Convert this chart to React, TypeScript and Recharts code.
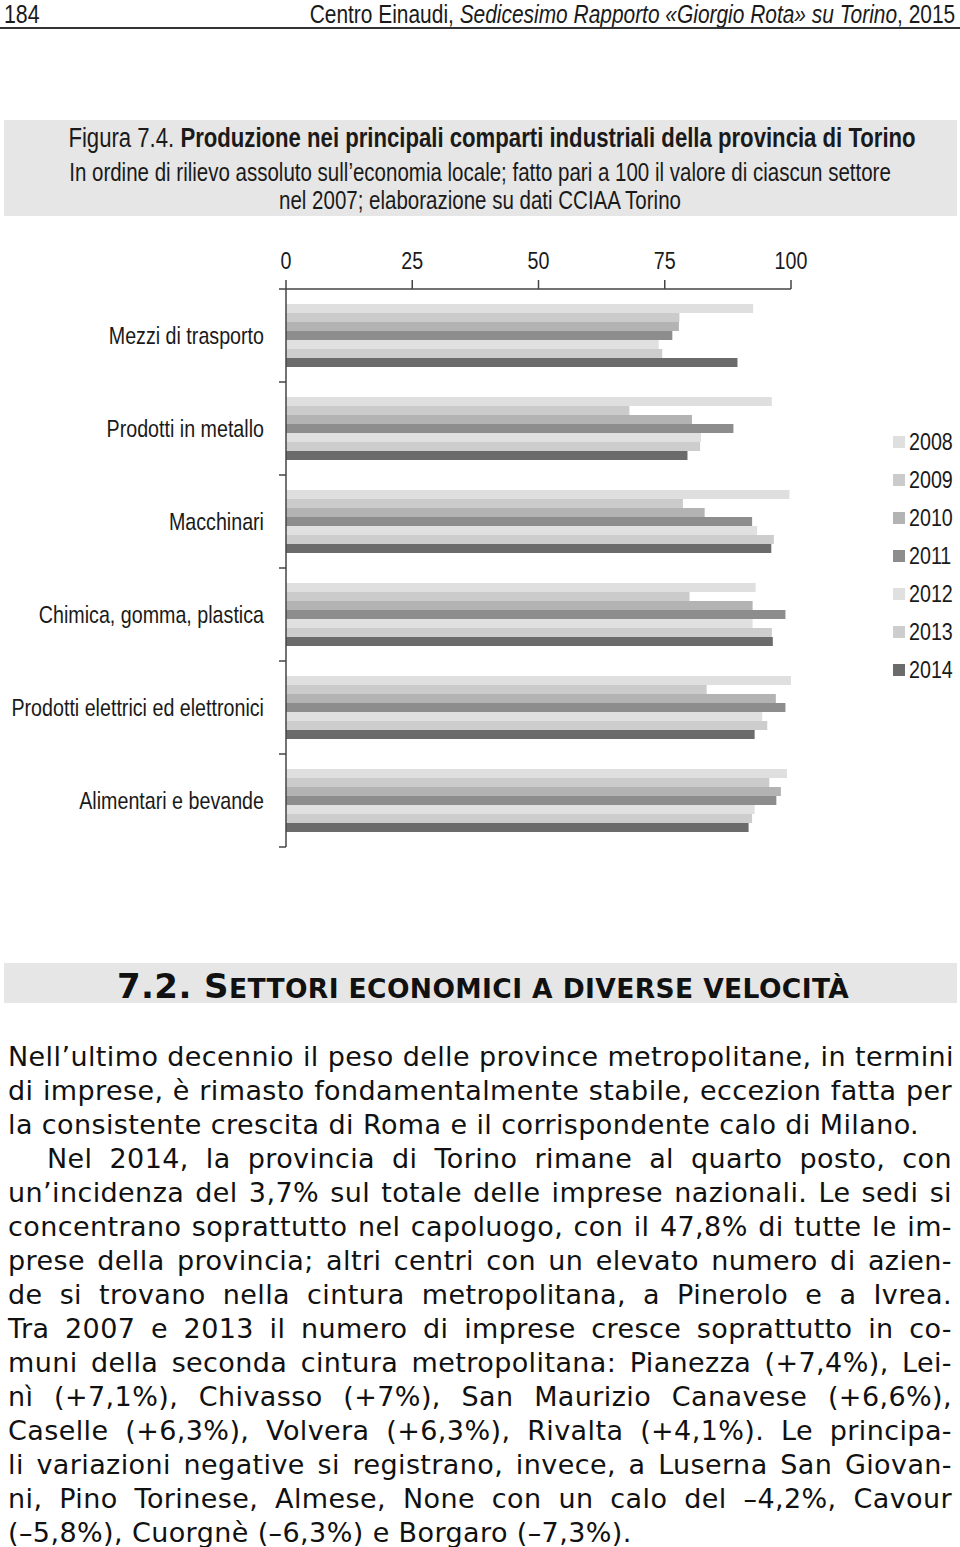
import React from "react";
import { Bar, BarChart, Legend, XAxis, YAxis } from "recharts";

const categories = [
  "Mezzi di trasporto",
  "Prodotti in metallo",
  "Macchinari",
  "Chimica, gomma, plastica",
  "Prodotti elettrici ed elettronici",
  "Alimentari e bevande",
];
const years = ["2008", "2009", "2010", "2011", "2012", "2013", "2014"];
const v2008 = [92.5, 96.2, 99.7, 93.0, 100, 99.2];
const v2009 = [77.9, 68.0, 78.6, 79.9, 83.3, 95.7];
const v2010 = [77.8, 80.4, 82.9, 92.4, 97.0, 98.0];
const v2011 = [76.5, 88.6, 92.3, 98.9, 98.9, 97.1];
const v2012 = [73.8, 82.2, 93.3, 92.4, 94.3, 92.8];
const v2013 = [74.5, 82.0, 96.6, 96.2, 95.3, 92.3];
const v2014 = [89.4, 79.5, 96.1, 96.4, 92.8, 91.6];
const xTicks = [0, 25, 50, 75, 100];

const series = [v2008, v2009, v2010, v2011, v2012, v2013, v2014];
const colors = ["#dfdfdf", "#cbcbcb", "#b3b3b3", "#8d8d8d", "#e0e0e0", "#cdcdcd", "#6b6b6b"];

const data = categories.map((name, i) => {
  const row: Record<string, string | number> = { name };
  years.forEach((y, k) => {
    row[y] = series[k][i];
  });
  return row;
});

// no Arial Narrow available: squeeze Liberation Sans instead
const SANS = '"Liberation Sans", Arial, sans-serif';
const NARROW = 0.82;
const BODY = '"DejaVu Sans", Verdana, sans-serif';

const CHART_W = 960;
const CHART_H = 640;
const MARGIN = { top: 29, right: 99, bottom: 23, left: 0 };
const X_AXIS_H = 30;
const Y_AXIS_W = 286;
const BAND = (CHART_H - MARGIN.top - X_AXIS_H - MARGIN.bottom) / categories.length;

const bodyLines: { text: string; justify: boolean; indent?: number }[] = [
  { text: "Nell\u2019ultimo decennio il peso delle province metropolitane, in termini", justify: true },
  { text: "di imprese, è rimasto fondamentalmente stabile, eccezion fatta per", justify: true },
  { text: "la consistente crescita di Roma e il corrispondente calo di Milano.", justify: false },
  { text: "Nel 2014, la provincia di Torino rimane al quarto posto, con", justify: true, indent: 39 },
  { text: "un\u2019incidenza del 3,7% sul totale delle imprese nazionali. Le sedi si", justify: true },
  { text: "concentrano soprattutto nel capoluogo, con il 47,8% di tutte le im-", justify: true },
  { text: "prese della provincia; altri centri con un elevato numero di azien-", justify: true },
  { text: "de si trovano nella cintura metropolitana, a Pinerolo e a Ivrea.", justify: true },
  { text: "Tra 2007 e 2013 il numero di imprese cresce soprattutto in co-", justify: true },
  { text: "muni della seconda cintura metropolitana: Pianezza (+7,4%), Lei-", justify: true },
  { text: "nì (+7,1%), Chivasso (+7%), San Maurizio Canavese (+6,6%),", justify: true },
  { text: "Caselle (+6,3%), Volvera (+6,3%), Rivalta (+4,1%). Le principa-", justify: true },
  { text: "li variazioni negative si registrano, invece, a Luserna San Giovan-", justify: true },
  { text: "ni, Pino Torinese, Almese, None con un calo del \u20134,2%, Cavour", justify: true },
  { text: "(\u20135,8%), Cuorgnè (\u20136,3%) e Borgaro (\u20137,3%).", justify: false },
];

function ValueTick(props: any) {
  const { x, y, payload } = props;
  return (
    <text
      transform={`translate(${x},${y}) scale(${NARROW},1)`}
      textAnchor="middle"
      fill="#1a1a1a"
      fontSize={24}
      fontFamily={SANS}
    >
      {payload.value}
    </text>
  );
}

function CategoryTick(props: any) {
  const { x, y, payload, index } = props;
  const ax = x + 22;
  const top = y - BAND / 2;
  return (
    <g>
      <line x1={ax - 7} x2={ax} y1={top} y2={top} stroke="#444" strokeWidth={1.5} />
      {index === categories.length - 1 && (
        <line x1={ax - 7} x2={ax} y1={top + BAND} y2={top + BAND} stroke="#444" strokeWidth={1.5} />
      )}
      <text
        transform={`translate(${x},${y + 8}) scale(${NARROW},1)`}
        textAnchor="end"
        fill="#1a1a1a"
        fontSize={24}
        fontFamily={SANS}
      >
        {payload.value}
      </text>
    </g>
  );
}

function YearLegend() {
  return (
    <div style={{ fontFamily: SANS, fontSize: 24, color: "#1a1a1a" }}>
      {years.map((y, k) => (
        <div key={y} style={{ display: "flex", alignItems: "center", height: 38 }}>
          <span style={{ width: 12, height: 12, background: colors[k], marginRight: 4, flex: "none" }} />
          <span style={{ display: "inline-block", transform: `scaleX(${NARROW})`, transformOrigin: "left" }}>
            {y}
          </span>
        </div>
      ))}
    </div>
  );
}

function Squeezed({ children, style }: { children: React.ReactNode; style: React.CSSProperties }) {
  return (
    <div style={{ position: "absolute", whiteSpace: "nowrap", fontFamily: SANS, ...style }}>{children}</div>
  );
}

export default function App() {
  return (
    <div
      style={{
        position: "absolute",
        left: 0,
        top: 0,
        width: 960,
        height: 1547,
        background: "#fff",
        color: "#1a1a1a",
        overflow: "hidden",
      }}
    >
      <Squeezed
        style={{ left: 4, top: 3, fontSize: 26, lineHeight: "22px", transform: `scaleX(${NARROW})`, transformOrigin: "left" }}
      >
        184
      </Squeezed>
      <Squeezed
        style={{ right: 5, top: 3, fontSize: 25.5, lineHeight: "22px", transform: `scaleX(${NARROW})`, transformOrigin: "right" }}
      >
        Centro Einaudi, <i>Sedicesimo Rapporto «Giorgio Rota» su Torino</i>, 2015
      </Squeezed>
      <div style={{ position: "absolute", left: 0, top: 27, width: 960, height: 2, background: "#333" }} />

      <div style={{ position: "absolute", left: 4, top: 120, width: 953, height: 96, background: "#e6e6e6" }} />
      <Squeezed
        style={{
          left: 492,
          top: 124,
          fontSize: 27,
          lineHeight: "28px",
          transform: `translateX(-50%) scaleX(${NARROW})`,
        }}
      >
        Figura 7.4. <b>Produzione nei principali comparti industriali della provincia di Torino</b>
      </Squeezed>
      <Squeezed
        style={{
          left: "50%",
          top: 158,
          fontSize: 25,
          lineHeight: "28px",
          textAlign: "center",
          transform: `translateX(-50%) scaleX(${NARROW})`,
        }}
      >
        In ordine di rilievo assoluto sull{"\u2019"}economia locale; fatto pari a 100 il valore di ciascun settore
        <br />
        nel 2007; elaborazione su dati CCIAA Torino
      </Squeezed>

      <div style={{ position: "absolute", left: 0, top: 230 }}>
        <BarChart
          width={CHART_W}
          height={CHART_H}
          data={data}
          layout="vertical"
          margin={MARGIN}
          barCategoryGap={15}
          barGap={0}
        >
          <XAxis
            type="number"
            orientation="top"
            height={X_AXIS_H}
            domain={[0, 100]}
            ticks={xTicks}
            tickSize={9}
            tickMargin={11}
            axisLine={{ stroke: "#444", strokeWidth: 1.5 }}
            tickLine={{ stroke: "#444", strokeWidth: 1.5 }}
            tick={<ValueTick />}
          />
          <YAxis
            type="category"
            dataKey="name"
            width={Y_AXIS_W}
            axisLine={{ stroke: "#444", strokeWidth: 1.5 }}
            tickLine={false}
            tickSize={0}
            tickMargin={22}
            tick={<CategoryTick />}
          />
          <Legend
            layout="vertical"
            verticalAlign="top"
            align="right"
            content={() => <YearLegend />}
            wrapperStyle={{ position: "absolute", left: 893, top: 193, width: 70 }}
          />
          {years.map((y, k) => (
            <Bar key={y} dataKey={y} fill={colors[k]} isAnimationActive={false} />
          ))}
        </BarChart>
      </div>

      <div style={{ position: "absolute", left: 4, top: 963, width: 953, height: 40, background: "#e6e6e6" }} />
      <div
        style={{
          position: "absolute",
          left: 117,
          top: 966,
          whiteSpace: "nowrap",
          lineHeight: "40px",
          fontFamily: BODY,
          fontWeight: "bold",
          fontSize: 34,
          letterSpacing: 0.4,
          color: "#111",
        }}
      >
        7.2. S<span style={{ fontSize: 26.5 }}>ETTORI ECONOMICI A DIVERSE VELOCITÀ</span>
      </div>

      {bodyLines.map((l, i) => (
        <div
          key={i}
          style={{
            position: "absolute",
            left: 8 + (l.indent || 0),
            top: 1040 + i * 34,
            width: 944 - (l.indent || 0),
            lineHeight: "34px",
            fontFamily: BODY,
            fontSize: 27,
            letterSpacing: 0.4,
            color: "#111",
            whiteSpace: "nowrap",
            textAlign: l.justify ? "justify" : "left",
            textAlignLast: l.justify ? "justify" : "left",
          }}
        >
          {l.text}
        </div>
      ))}
    </div>
  );
}
